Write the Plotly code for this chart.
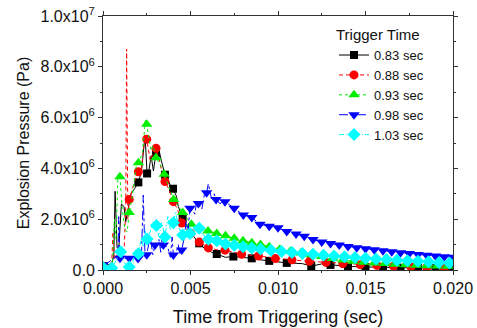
import plotly.graph_objects as go

# Time in ms, pressure in MPa (converted to s and Pa when plotted)
# ---- 0.83 sec (black) ----
b83_raw_t = [0.3, 0.5, 0.62, 0.69, 0.8, 0.9, 1.05, 1.2, 1.3, 1.45, 1.6, 1.8, 2.2, 2.3, 2.4, 2.62, 2.75, 2.88, 3.15, 3.3, 3.7, 3.85, 4.2, 4.3, 4.75, 5.2, 5.8, 6.2, 7.0, 8.0, 9.0, 11.4, 12.5]
b83_raw_p = [0.2, 0.25, 0.6, 3.1, 0.9, 0.8, 2.6, 2.5, 1.9, 2.4, 3.0, 3.2, 3.9, 4.5, 5.3, 3.9, 4.5, 3.9, 4.9, 4.4, 3.6, 3.3, 2.9, 2.5, 1.8, 1.3, 0.85, 0.7, 0.5, 0.5, 0.4, 0.25, 0.24]
b83_mk_t = [0.0, 2.02, 2.52, 3.03, 3.54, 4.0, 4.55, 5.5, 6.5, 7.45, 8.5, 9.5, 10.5, 11.9, 13.0, 14.0, 15.0, 16.0, 17.0, 18.0, 19.0, 19.9]
b83_mk_p = [0.15, 3.45, 3.8, 4.6, 3.75, 3.2, 2.05, 1.05, 0.63, 0.53, 0.46, 0.36, 0.28, 0.15, 0.2, 0.14, 0.12, 0.1, 0.09, 0.08, 0.07, 0.06]

# ---- 0.88 sec (red) ----
r88_raw_t = [0.3, 0.5, 0.57, 0.65, 0.8, 1.0, 1.2, 1.3, 1.35, 1.42, 1.65, 1.8, 2.2, 2.35, 2.7, 2.85, 3.2, 3.35, 3.75, 4.25, 4.75, 5.25, 5.75, 6.5]
r88_raw_p = [0.2, 0.3, 1.5, 0.4, 0.6, 0.7, 0.6, 2.5, 8.7, 2.0, 3.1, 3.5, 4.0, 5.0, 4.3, 4.6, 4.4, 3.9, 3.2, 2.4, 1.6, 1.25, 1.0, 0.8]
r88_mk_t = [0.0, 1.5, 2.02, 2.5, 3.03, 3.54, 4.02, 4.5, 5.0, 5.5, 6.02, 6.97, 7.92, 8.88, 9.85, 10.8, 11.8, 12.75, 13.7, 14.7, 15.65, 16.6, 17.6, 18.5, 19.5]
r88_mk_p = [0.15, 2.78, 3.87, 5.15, 4.79, 3.48, 2.69, 1.85, 1.45, 1.1, 0.87, 0.78, 0.62, 0.55, 0.45, 0.4, 0.34, 0.3, 0.25, 0.21, 0.18, 0.15, 0.12, 0.1, 0.08]

# ---- 0.93 sec (green) ----
g93_raw_t = [0.3, 0.55, 0.65, 0.75, 0.85, 0.92, 1.1, 1.25, 1.38, 1.65, 1.8, 1.9, 2.25, 2.42, 2.6, 2.75, 2.85, 3.25, 3.75]
g93_raw_p = [0.15, 0.3, 2.0, 1.2, 3.7, 3.8, 2.4, 1.6, 1.5, 2.8, 3.5, 4.1, 4.6, 5.9, 5.3, 4.7, 4.9, 4.2, 3.3]
g93_mk_t = [0.0, 0.97, 1.5, 2.02, 2.5, 3.03, 3.5, 4.04, 4.55, 5.05, 5.5, 6.0, 6.5, 7.0, 7.5, 8.0, 8.5, 9.0, 9.5, 10.1, 10.7, 11.3, 11.9, 12.5, 13.1, 13.7, 14.3, 14.9, 15.5, 16.1, 16.7, 17.3, 17.9, 18.5, 19.1, 19.7]
g93_mk_p = [0.1, 3.67, 2.26, 4.22, 5.74, 4.42, 3.77, 2.78, 2.26, 1.8, 1.65, 1.54, 1.44, 1.35, 1.25, 1.15, 1.07, 1.0, 0.92, 0.82, 0.74, 0.67, 0.6, 0.53, 0.45, 0.39, 0.34, 0.31, 0.28, 0.26, 0.23, 0.21, 0.19, 0.17, 0.16, 0.15]

# ---- 0.98 sec (blue) ----
b98_raw_t = [0.3, 0.5, 0.7, 0.85, 0.9, 1.05, 1.3, 1.7, 2.2, 2.3, 2.4, 2.55, 2.7, 2.85, 3.2, 3.3, 3.4, 3.7, 3.85, 3.95, 4.15, 4.3, 4.4, 4.65, 4.75, 4.85, 5.1, 5.25, 5.35, 5.65, 5.8, 6.02, 6.2, 6.35, 6.7, 6.85]
b98_raw_p = [0.3, 0.4, 0.5, 0.4, 2.1, 0.5, 0.45, 0.5, 0.6, 2.95, 0.6, 0.8, 1.3, 0.6, 1.2, 0.7, 1.5, 0.9, 0.5, 1.3, 0.6, 1.0, 0.6, 1.3, 1.9, 1.5, 2.4, 2.2, 2.7, 2.4, 3.0, 3.4, 2.8, 3.0, 2.6, 2.75]
b98_mk_t = [0.0, 0.97, 1.5, 2.0, 2.5, 2.97, 3.45, 4.02, 4.5, 4.97, 5.45, 5.92, 6.46, 6.97, 7.5, 8.02, 8.5, 8.97, 9.5, 10.0, 10.5, 11.03, 11.5, 12.0, 12.5, 13.0, 13.5, 14.0, 14.5, 15.0, 15.5, 16.0, 16.5, 17.0, 17.5, 18.0, 18.5, 19.0, 19.5, 20.0]
b98_mk_p = [0.2, 0.46, 0.46, 0.45, 0.6, 0.98, 0.98, 0.59, 0.79, 2.43, 2.62, 3.04, 2.78, 2.69, 2.43, 2.17, 2.07, 1.8, 1.72, 1.66, 1.52, 1.42, 1.33, 1.2, 1.1, 1.04, 0.98, 0.93, 0.88, 0.84, 0.8, 0.76, 0.72, 0.68, 0.65, 0.61, 0.58, 0.55, 0.52, 0.5]

# ---- 1.03 sec (cyan) ----
c103_raw_t = [0.3, 0.7, 0.85, 1.2, 1.7, 1.85, 2.2, 2.3, 2.4, 2.7, 2.85, 3.2, 3.35, 3.7, 3.85, 4.15, 4.3, 4.7, 5.2, 5.7]
c103_raw_p = [0.15, 0.3, 0.5, 0.3, 0.3, 0.8, 1.3, 0.9, 1.6, 1.5, 1.9, 1.3, 1.9, 2.1, 1.6, 2.3, 1.7, 1.6, 1.7, 1.4]
c103_mk_t = [0.0, 0.5, 1.01, 1.5, 2.02, 2.52, 3.05, 3.54, 4.02, 4.55, 4.97, 5.5, 6.02, 6.5, 7.0, 7.5, 8.0, 8.5, 9.0, 9.6, 10.2, 10.8, 11.4, 12.0, 12.6, 13.2, 13.8, 14.4, 15.0, 15.6, 16.2, 16.8, 17.4, 18.0, 18.6, 19.2, 19.8]
c103_mk_p = [0.1, 0.08, 0.72, 0.12, 0.64, 1.22, 1.75, 1.3, 1.86, 1.38, 1.44, 1.64, 1.21, 1.15, 1.02, 0.97, 0.92, 0.87, 0.83, 0.78, 0.73, 0.69, 0.65, 0.62, 0.58, 0.55, 0.52, 0.49, 0.46, 0.43, 0.41, 0.38, 0.36, 0.34, 0.32, 0.3, 0.28]

series_names = ["0.83 sec", "0.88 sec", "0.93 sec", "0.98 sec", "1.03 sec"]
x_tick_vals = [0.0, 0.005, 0.010, 0.015, 0.020]
x_tick_text = ["0.000", "0.005", "0.010", "0.015", "0.020"]
y_tick_vals = [0, 2e6, 4e6, 6e6, 8e6, 1e7]
y_tick_text = ["0.0", "2.0x10<sup>6</sup>", "4.0x10<sup>6</sup>", "6.0x10<sup>6</sup>",
               "8.0x10<sup>6</sup>", "1.0x10<sup>7</sup>"]

series = [
    (b83_raw_t, b83_raw_p, b83_mk_t, b83_mk_p, "#000000", "solid", "square", 8),
    (r88_raw_t, r88_raw_p, r88_mk_t, r88_mk_p, "#FF0000", "4px,3px", "circle", 9),
    (g93_raw_t, g93_raw_p, g93_mk_t, g93_mk_p, "#00EE00", "dot", "triangle-up", 10),
    (b98_raw_t, b98_raw_p, b98_mk_t, b98_mk_p, "#0000FF", "dashdot", "triangle-down", 10),
    (c103_raw_t, c103_raw_p, c103_mk_t, c103_mk_p, "#00FFFF", "5px,2px,1px,2px,1px,2px", "diamond", 10),
]

fig = go.Figure()
FONT = "Liberation Sans, Arial, sans-serif"

for name, (rt, rp, mt, mp, col, dash, sym, sz) in zip(series_names, series):
    pts = sorted(zip(rt + mt, rp + mp))
    lx = [t * 1e-3 for t, _ in pts]
    ly = [p * 1e6 for _, p in pts]
    fig.add_trace(go.Scatter(x=lx, y=ly, mode="lines", showlegend=False,
                             line=dict(color=col, width=1, dash=dash), hoverinfo="skip"))
    fig.add_trace(go.Scatter(x=[t * 1e-3 for t in mt], y=[p * 1e6 for p in mp], mode="markers",
                             showlegend=False,
                             marker=dict(symbol=sym, size=sz, color=col, line=dict(width=0))))
    fig.add_trace(go.Scatter(x=[None], y=[None], mode="lines+markers", name=name,
                             line=dict(color=col, width=1, dash=dash),
                             marker=dict(symbol=sym, size=sz, color=col, line=dict(width=0))))

axis_common = dict(showline=True, linecolor="#333", linewidth=1, mirror="ticks",
                   ticks="outside", ticklen=4, tickcolor="#333", showgrid=False, zeroline=False,
                   automargin=False,
                   tickfont=dict(family=FONT, size=16, color="#111"))

fig.update_xaxes(range=[0, 0.02], tickvals=x_tick_vals, ticktext=x_tick_text,
                 minor=dict(ticks="outside", ticklen=2, dtick=0.0025, tickcolor="#333"),
                 title=dict(text="Time from Triggering (sec)",
                            font=dict(family=FONT, size=18, color="#111"), standoff=14),
                 **axis_common)
fig.update_yaxes(range=[0, 1e7], tickvals=y_tick_vals, ticktext=y_tick_text,
                 minor=dict(ticks="outside", ticklen=2, dtick=1e6, tickcolor="#333"),
                 title=dict(text="Explosion Pressure (Pa)",
                            font=dict(family=FONT, size=16, color="#111"), standoff=6),
                 **axis_common)

fig.update_layout(
    width=477, height=328, autosize=False,
    margin=dict(l=103, r=24, t=16, b=58, autoexpand=False),
    paper_bgcolor="white", plot_bgcolor="white",
    font=dict(family=FONT, color="#111"),
    legend=dict(x=0.66, y=0.982, xanchor="left", yanchor="top",
                bgcolor="rgba(0,0,0,0)", borderwidth=0,
                title=dict(text="Trigger Time", font=dict(family=FONT, size=15)),
                font=dict(family=FONT, size=13), tracegroupgap=0, itemwidth=30),
)

fig.write_html("out.html", config={"displayModeBar": False, "responsive": False},
               post_script="document.body.style.margin='0px';document.body.style.overflow='hidden';")
